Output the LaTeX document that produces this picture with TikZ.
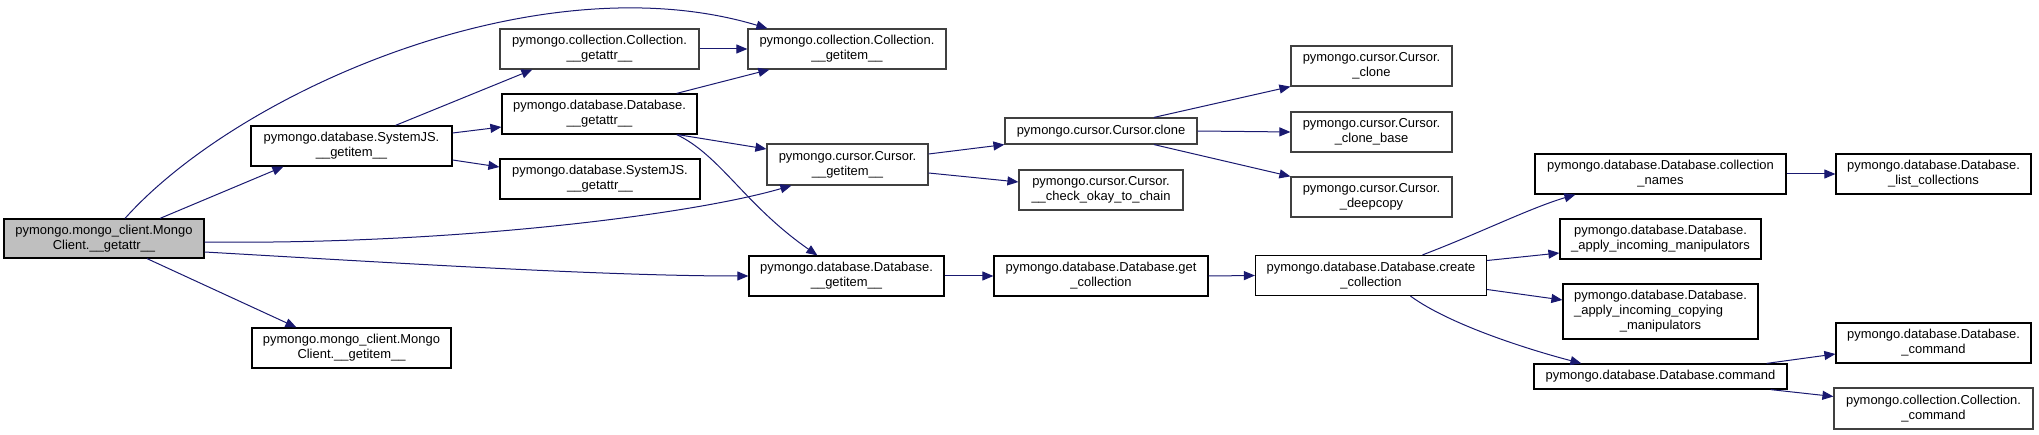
\documentclass[tikz,border=0pt]{standalone}
\usepackage{fontspec}
\setmainfont{Liberation Sans}
\usetikzlibrary{arrows.meta,calc}
\definecolor{edgeblue}{HTML}{191970}
\definecolor{rootgray}{HTML}{BFBFBF}
\definecolor{bordergray}{HTML}{404040}
\tikzset{
  fn/.style={draw=black, line width=1.2bp, rectangle, inner sep=0pt, align=center,
    font=\fontsize{13}{15}\selectfont, text=black, fill=white},
  fngray/.style={fn, draw=bordergray},
  edge/.style={draw=edgeblue, line width=1bp, -{Triangle[length=11bp,width=9bp]}},
}
\begin{document}
\begin{tikzpicture}[x=1bp,y=-1bp]
\useasboundingbox (0,0) rectangle (2039,435);
% nodes
\node[fn, fill=rootgray, minimum width=200bp, minimum height=39bp] (root) at (104,238.5) {pymongo.mongo\_client.Mongo\\Client.\_\_getattr\_\_};
\node[fn, minimum width=201bp, minimum height=40bp] (sjgi) at (351.5,146) {pymongo.database.SystemJS.\\\_\_getitem\_\_};
\node[fn, minimum width=199bp, minimum height=40bp] (mcgi) at (351.5,348) {pymongo.mongo\_client.Mongo\\Client.\_\_getitem\_\_};
\node[fngray, minimum width=199bp, minimum height=40bp] (cga) at (599.5,49) {pymongo.collection.Collection.\\\_\_getattr\_\_};
\node[fn, minimum width=195bp, minimum height=40bp] (dga) at (599.5,114) {pymongo.database.Database.\\\_\_getattr\_\_};
\node[fn, minimum width=200bp, minimum height=40bp] (sjga) at (600,179) {pymongo.database.SystemJS.\\\_\_getattr\_\_};
\node[fngray, minimum width=198bp, minimum height=40bp] (cgi) at (847,49) {pymongo.collection.Collection.\\\_\_getitem\_\_};
\node[fngray, minimum width=161bp, minimum height=41bp] (cugi) at (847.5,164.5) {pymongo.cursor.Cursor.\\\_\_getitem\_\_};
\node[fngray, minimum width=192bp, minimum height=26bp] (clone) at (1101,131) {pymongo.cursor.Cursor.clone};
\node[fngray, minimum width=164bp, minimum height=40bp] (check) at (1101,190) {pymongo.cursor.Cursor.\\\_\_check\_okay\_to\_chain};
\node[fngray, minimum width=161bp, minimum height=40bp] (uclone) at (1371.5,66) {pymongo.cursor.Cursor.\\\_clone};
\node[fngray, minimum width=161bp, minimum height=40bp] (clonebase) at (1371.5,132) {pymongo.cursor.Cursor.\\\_clone\_base};
\node[fngray, minimum width=161bp, minimum height=40bp] (deepcopy) at (1371.5,197) {pymongo.cursor.Cursor.\\\_deepcopy};
\node[fn, minimum width=195bp, minimum height=40bp] (dgi) at (846.5,276) {pymongo.database.Database.\\\_\_getitem\_\_};
\node[fn, minimum width=214bp, minimum height=40bp] (getcol) at (1101,276) {pymongo.database.Database.get\\\_collection};
\node[fn, minimum width=231bp, minimum height=40bp] (create) at (1371,275.5) {pymongo.database.Database.create\\\_collection};
\node[fn, minimum width=251bp, minimum height=40bp] (colnames) at (1660.5,174) {pymongo.database.Database.collection\\\_names};
\node[fn, minimum width=195bp, minimum height=40bp] (listcol) at (1933.5,174) {pymongo.database.Database.\\\_list\_collections};
\node[fn, minimum width=201bp, minimum height=40bp] (aim) at (1660.5,239) {pymongo.database.Database.\\\_apply\_incoming\_manipulators};
\node[fn, minimum width=195bp, minimum height=55bp] (aicm) at (1660.5,311.5) {pymongo.database.Database.\\\rlap{\_apply\_incoming\_copying}\phantom{pymongo.database.Database.}\\\_manipulators};
\node[fn, minimum width=253bp, minimum height=25bp] (cmd) at (1660.5,376.5) {pymongo.database.Database.command};
\node[fn, minimum width=195bp, minimum height=40bp] (dcmd) at (1933.5,343) {pymongo.database.Database.\\\_command};
\node[fngray, minimum width=199bp, minimum height=41bp] (ccmd) at (1933.5,408.5) {pymongo.collection.Collection.\\\_command};
% edges
\draw[edge] ($(root.north)+(21,0)$) .. controls (240,90) and (540,-40) .. ($(cgi.north west)+(20,0)$);
\draw[edge] ($(root.north)+(56,0)$) -- ($(sjgi.south west)+(33,0)$);
\draw[edge] ($(root.east)+(0,3.5)$) .. controls (450,245) and (690,215) .. ($(cugi.south west)+(25,0)$);
\draw[edge] ($(root.east)+(0,13.5)$) .. controls (380,262) and (600,276) .. (dgi.west);
\draw[edge] ($(root.south)+(43,0)$) -- ($(mcgi.north west)+(45,0)$);
\draw[edge] ($(sjgi.north)+(44,0)$) -- ($(cga.south west)+(33,0)$);
\draw[edge] ($(sjgi.east)+(0,-13)$) -- ($(dga.west)+(0,13)$);
\draw[edge] ($(sjgi.east)+(0,14)$) -- ($(sjga.west)+(0,-12)$);
\draw[edge] (cga.east) -- (cgi.west);
\draw[edge] ($(dga.north east)+(-21,0)$) -- ($(cgi.south west)+(22,0)$);
\draw[edge] ($(dga.south east)+(-20,0)$) -- ($(cugi.west)+(0,-15.5)$);
\draw[edge] ($(dga.south east)+(-21,0)$) .. controls (720,155) and (745,205) .. ($(dgi.north west)+(69,0)$);
\draw[edge] ($(cugi.east)+(0,-10.5)$) -- (clone.south west);
\draw[edge] ($(cugi.east)+(0,8.5)$) -- ($(check.west)+(0,-8)$);
\draw[edge] ($(clone.north)+(53,0)$) -- (uclone.south west);
\draw[edge] (clone.east) -- (clonebase.west);
\draw[edge] ($(clone.south)+(53,0)$) -- (deepcopy.north west);
\draw[edge] (dgi.east) -- (getcol.west);
\draw[edge] (getcol.east) -- (create.west);
\draw[edge] ($(create.north)+(51.5,0)$) .. controls (1480,233) and (1530,208) .. ($(colnames.south west)+(41,0)$);
\draw[edge] ($(create.east)+(0,-15)$) -- ($(aim.west)+(0,14)$);
\draw[edge] ($(create.east)+(0,14)$) -- ($(aicm.west)+(0,-11.5)$);
\draw[edge] ($(create.south)+(39.5,0)$) .. controls (1450,325) and (1530,350) .. ($(cmd.north west)+(48,0)$);
\draw[edge] (colnames.east) -- (listcol.west);
\draw[edge] ($(cmd.north east)+(-21,0)$) -- ($(dcmd.west)+(0,11)$);
\draw[edge] ($(cmd.south east)+(-17,0)$) -- ($(ccmd.west)+(0,-12)$);
\end{tikzpicture}
\end{document}
